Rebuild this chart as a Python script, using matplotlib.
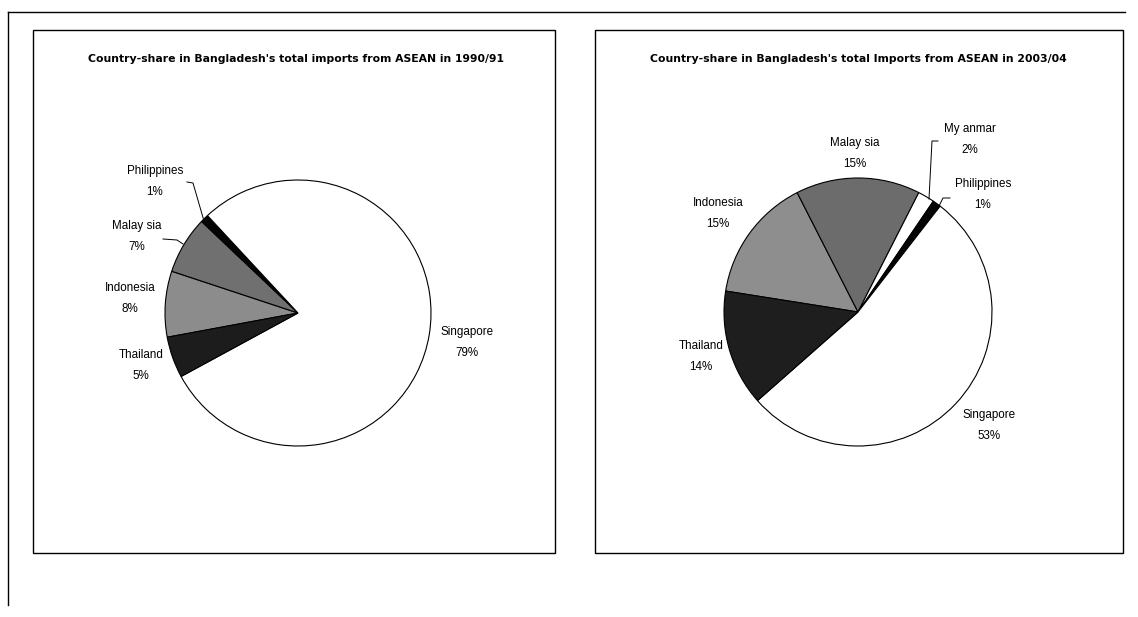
import matplotlib
matplotlib.use("Agg")
import matplotlib.pyplot as plt
from matplotlib.patches import Rectangle

plt.rcParams['font.family'] = ['Liberation Sans', 'DejaVu Sans']

W, H = 1138, 617

# data for the two pies (alphabetical order, drawn clockwise as in Excel)
countries_9091 = ["Indonesia", "Malaysia", "Philippines", "Singapore", "Thailand"]
label_names_9091 = ["Indonesia", "Malay sia", "Philippines", "Singapore", "Thailand"]
shares_9091 = [8, 7, 1, 79, 5]
colors_9091 = ["#8c8c8c", "#707070", "#050505", "#ffffff", "#1c1c1c"]

countries_0304 = ["Indonesia", "Malaysia", "Myanmar", "Philippines", "Singapore", "Thailand"]
label_names_0304 = ["Indonesia", "Malay sia", "My anmar", "Philippines", "Singapore", "Thailand"]
shares_0304 = [15, 15, 2, 1, 53, 14]
colors_0304 = ["#8e8e8e", "#6c6c6c", "#ffffff", "#050505", "#ffffff", "#1e1e1e"]

title_9091 = "Country-share in Bangladesh's total imports from ASEAN in 1990/91"
title_0304 = "Country-share in Bangladesh's total Imports from ASEAN in 2003/04"

fig = plt.figure(figsize=(W / 100, H / 100), dpi=100)
ax = fig.add_axes([0, 0, 1, 1])
ax.axis("off")


def Y(y):
    # picture rows (top down) to axes units
    return H - y


# outer page lines
ax.plot([8, 1125], [Y(12), Y(12)], color="black", lw=1.0)
ax.plot([8, 8], [Y(12), Y(605)], color="black", lw=1.0)

# the two chart frames
ax.add_patch(Rectangle((33, Y(553)), 522, 523, fill=False, ec="black", lw=1.0))
ax.add_patch(Rectangle((595, Y(553)), 528, 523, fill=False, ec="black", lw=1.0))

ax.text(296, Y(59), title_9091, ha="center", va="center",
        fontsize=7.85, fontweight="bold", family="DejaVu Sans")
ax.text(858, Y(59), title_0304, ha="center", va="center",
        fontsize=7.85, fontweight="bold", family="DejaVu Sans")

ax.pie(shares_9091, colors=colors_9091, startangle=190.5, counterclock=False,
       center=(298, Y(313)), radius=133,
       wedgeprops=dict(edgecolor="black", linewidth=0.8))
ax.pie(shares_0304, colors=colors_0304, startangle=171, counterclock=False,
       center=(858, Y(312)), radius=134,
       wedgeprops=dict(edgecolor="black", linewidth=0.8))
ax.set_xlim(0, W)
ax.set_ylim(0, H)
ax.set_aspect("equal")

# label positions (name row, percent row)
pos_9091 = {"Philippines": (155, 171), "Malaysia": (137, 226), "Indonesia": (130, 288),
            "Thailand": (141, 355), "Singapore": (467, 332)}
pos_0304 = {"Myanmar": (970, 129), "Malaysia": (855, 143), "Philippines": (983, 184),
            "Indonesia": (718, 203), "Thailand": (701, 346), "Singapore": (989, 415)}

for name, lab, val in zip(countries_9091, label_names_9091, shares_9091):
    x, y = pos_9091[name]
    ax.text(x, Y(y), lab, ha="center", va="center", fontsize=8.4)
    ax.text(x, Y(y + 21), f"{val}%", ha="center", va="center", fontsize=8.4)

for name, lab, val in zip(countries_0304, label_names_0304, shares_0304):
    x, y = pos_0304[name]
    ax.text(x, Y(y), lab, ha="center", va="center", fontsize=8.4)
    ax.text(x, Y(y + 21), f"{val}%", ha="center", va="center", fontsize=8.4)

# leader lines for the small slices
ax.plot([187, 193, 204], [Y(182), Y(183), Y(221)], color="black", lw=0.7)
ax.plot([163, 177, 183], [Y(239), Y(240), Y(244)], color="black", lw=0.7)
ax.plot([938, 932, 929], [Y(141), Y(141), Y(199)], color="black", lw=0.7)
ax.plot([950, 943, 937], [Y(198), Y(198), Y(210)], color="black", lw=0.7)

fig.savefig("out.png", dpi=100)
